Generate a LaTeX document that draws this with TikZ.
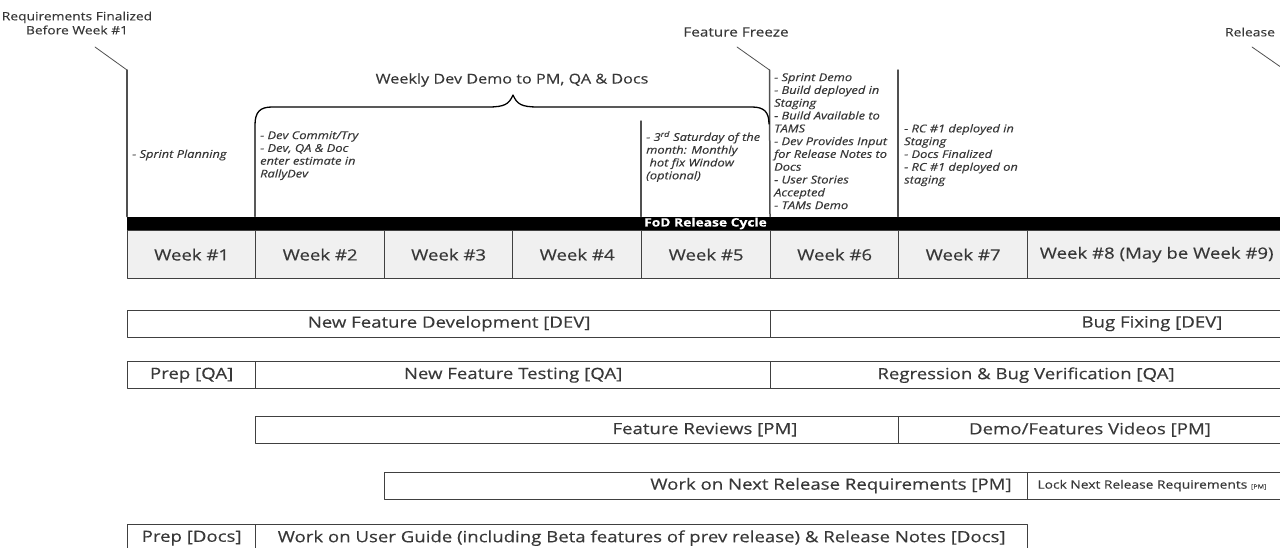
\documentclass[tikz,border=0pt]{standalone}
\usepackage{fontspec}
\setmainfont{Open Sans}[FakeStretch=1.2, FakeBold=0.3]
\definecolor{ink}{HTML}{383838}
\definecolor{rule}{HTML}{404040}
\definecolor{guidegray}{HTML}{505050}
\definecolor{cell}{HTML}{F0F0F0}
\tikzset{
  cellbox/.style={draw=rule, fill=cell, line width=1.3pt, minimum height=48pt, inner sep=0pt, text=ink, font=\fontsize{15.5}{18}\selectfont},
  barbox/.style={draw=rule, line width=1.3pt, minimum height=27pt, inner sep=0pt},
  barlabel/.style={text=ink, inner sep=0pt, font=\fontsize{15.5}{18}\selectfont},
  note/.style={text=ink, inner sep=0pt, anchor=north west, align=left, font=\fontsize{10.7}{12.8}\selectfont\itshape},
  milestone/.style={text=ink, inner sep=0pt, align=center, font=\fontsize{11.5}{14}\selectfont},
  guide/.style={draw=guidegray, line width=1.5pt},
  leader/.style={draw=guidegray, line width=0.8pt}
}
\begin{document}
\begin{tikzpicture}[x=1pt, y=-1pt, line join=round, line cap=round]
\clip (0,0) rectangle (1280,547);
% release cycle bar and weeks
\node[fill=black, anchor=north west, minimum width=1170, minimum height=13.5, inner sep=0pt] (cycle) at (127,216.5) {};
\node[text=white, inner sep=0pt, font=\fontsize{11.5}{13}\selectfont\bfseries] (cyclelbl) at (705.5,223.5) {FoD Release Cycle};
\foreach \n/\xa/\xb in {1/127/255,2/255/384,3/384/512,4/512/641,5/641/770,6/770/898,7/898/1027}
  \node[cellbox, anchor=north west, minimum width=\xb-\xa] (w\n) at (\xa,230) {Week \#\n};
\node[cellbox, anchor=north west, minimum width=258] (w8) at (1027,230) {Week \#8 (May be Week \#9)};
% activity bars
\foreach \nm/\xa/\xb/\y in {dev1/127/770/309.5,dev2/770/1290/309.5,qa1/127/255/361,qa2/255/770/361,qa3/770/1290/361,pm1/255/898/415.5,pm2/898/1290/415.5,nx1/384/1027/471.5,nx2/1027/1290/471.5,doc1/127/255/524,doc2/255/1027/524}
  \node[barbox, anchor=north west, minimum width=\xb-\xa] (\nm) at (\xa,\y) {};
\node[barlabel] (dev1lbl) at (dev1.center) {New Feature Development [DEV]};
\node[barlabel] (dev2lbl) at (1152,0 |- dev2.center) {Bug Fixing [DEV]};
\node[barlabel] (qa1lbl) at (qa1.center) {Prep [QA]};
\node[barlabel] (qa2lbl) at (qa2.center) {New Feature Testing [QA]};
\node[barlabel] (qa3lbl) at (1026,0 |- qa3.center) {Regression \& Bug Verification [QA]};
\node[barlabel] (pm1lbl) at (705,0 |- pm1.center) {Feature Reviews [PM]};
\node[barlabel] (pm2lbl) at (1090,0 |- pm2.center) {Demo/Features Videos [PM]};
\node[barlabel] (nx1lbl) at (831,0 |- nx1.center) {Work on Next Release Requirements [PM]};
\node[text=ink, inner sep=0pt, font=\fontsize{11.5}{13}\selectfont] (nx2lbl) at (1152,0 |- nx2.center) {Lock Next Release Requirements {\fontsize{6}{7}\selectfont[PM]}};
\node[barlabel] (doc1lbl) at (doc1.center) {Prep [Docs]};
\node[barlabel] (doc2lbl) at (doc2.center) {Work on User Guide (including Beta features of prev release) \& Release Notes [Docs]};
% milestones
\node[milestone] (reqlbl) at (77,23) {Requirements Finalized\\Before Week \#1};
\node[milestone, font=\fontsize{12.8}{14}\selectfont] (freezelbl) at (736,32) {Feature Freeze};
\node[milestone, font=\fontsize{11.6}{14}\selectfont] (releaselbl) at (1250,32) {Release};
\node[milestone, font=\fontsize{13.5}{16}\selectfont] (demolbl) at (512,80) {Weekly Dev Demo to PM, QA \& Docs};
\coordinate (reqtail) at (95,47);
\coordinate (reqbend) at (127,70);
\coordinate (freezetail) at (737,47);
\coordinate (freezebend) at (769.5,70);
\coordinate (reltail) at (1252,47);
\coordinate (relbend) at (1285,70);
\coordinate (w7top) at (898,70);
\coordinate (w5top) at (641,121);
\draw[leader] (reqtail) -- (reqbend);
\draw[leader] (freezetail) -- (freezebend);
\draw[leader] (reltail) -- (relbend);
\draw[guide] (reqbend) -- (cycle.north west);
\draw[guide] (freezebend) -- (w6.north west |- cycle.north);
\draw[guide] (relbend) -- (relbend |- cycle.north);
\draw[guide] (w7top) -- (w7.north west |- cycle.north);
\draw[guide] (w5top) -- (w5.north west |- cycle.north);
% brace over weeks 2-5
\draw[guide, draw=black, line width=1.3pt] (w2.north west |- cycle.north) -- (255,125) .. controls (255,112) and (260,107) .. (272,107) -- (488,107)
  .. controls (505,107) and (509,104) .. (513,95) .. controls (517,104) and (521,107) .. (538,107) -- (752,107) .. controls (764,107) and (769,112) .. (769,124);
% notes
\node[note, anchor=west] (n1) at (132,155) {- Sprint Planning};
\node[note] (n2) at (260,131) {- Dev Commit/Try\\- Dev, QA \& Doc\\enter estimate in\\RallyDev};
\node[note] (n5) at (646,131) {- 3\textsuperscript{rd} Saturday of the\\month: Monthly\\\ hot fix Window\\(optional)};
\node[note] (n6) at (774,73) {- Sprint Demo\\- Build deployed in\\Staging\\- Build Available to\\TAMS\\- Dev Provides Input\\for Release Notes to\\Docs\\- User Stories\\Accepted\\- TAMs Demo};
\node[note] (n7) at (904,124) {- RC \#1 deployed in\\Staging\\- Docs Finalized\\- RC \#1 deployed on\\staging};
\end{tikzpicture}
\end{document}
